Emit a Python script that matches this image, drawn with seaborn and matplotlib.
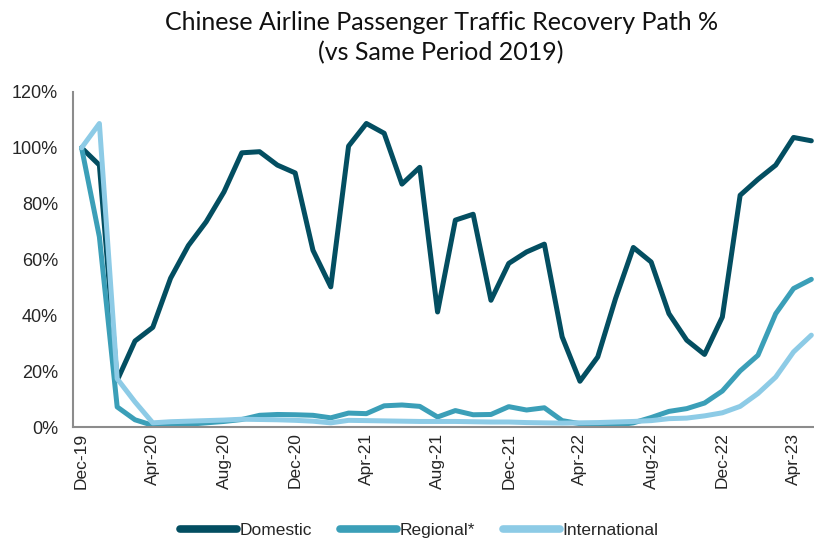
import matplotlib
matplotlib.use("Agg")
import matplotlib.pyplot as plt
import seaborn as sns
import pandas as pd
import numpy as np
from matplotlib.lines import Line2D

months = ["Dec-19", "Jan-20", "Feb-20", "Mar-20", "Apr-20", "May-20", "Jun-20", "Jul-20",
          "Aug-20", "Sep-20", "Oct-20", "Nov-20", "Dec-20", "Jan-21", "Feb-21", "Mar-21",
          "Apr-21", "May-21", "Jun-21", "Jul-21", "Aug-21", "Sep-21", "Oct-21", "Nov-21",
          "Dec-21", "Jan-22", "Feb-22", "Mar-22", "Apr-22", "May-22", "Jun-22", "Jul-22",
          "Aug-22", "Sep-22", "Oct-22", "Nov-22", "Dec-22", "Jan-23", "Feb-23", "Mar-23",
          "Apr-23", "May-23"]

domestic = [100, 93.8, 16.7, 30.8, 35.7, 53.3, 65, 73.5, 84.2, 98.2, 98.6, 93.8, 91,
            63.3, 50.2, 100.6, 108.7, 105.2, 87, 93, 41.2, 74.1, 76.2, 45.4, 58.6, 62.7,
            65.5, 32.3, 16.4, 25.1, 46, 64.3, 59.1, 40.6, 31.1, 26, 39.4, 83, 88.7, 93.8,
            103.7, 102.5]

regional = [100, 68.1, 7.2, 2.6, 0.6, 0.6, 1.0, 1.5, 2.0, 2.7, 4.2, 4.5, 4.4, 4.2, 3.3,
            5.0, 4.8, 7.6, 7.9, 7.4, 3.6, 5.9, 4.4, 4.5, 7.3, 6.1, 6.9, 2.3, 1.2, 0.6,
            0.6, 1.5, 3.4, 5.6, 6.6, 8.6, 12.9, 20.1, 25.7, 40.6, 49.6, 52.9]

international = [100, 108.7, 17.3, 9.0, 1.5, 1.9, 2.1, 2.3, 2.5, 2.8, 2.7, 2.6, 2.4, 2.1,
                 1.5, 2.4, 2.3, 2.2, 2.1, 2.0, 2.0, 2.0, 1.9, 1.8, 1.8, 1.6, 1.5, 1.4,
                 1.5, 1.6, 1.8, 2.0, 2.3, 3.0, 3.2, 4.0, 5.1, 7.4, 12.0, 17.9, 26.9, 32.9]

series_names = ["Domestic", "Regional*", "International"]
colors = ["#034e61", "#3b9fb8", "#8dcbe6"]
y_ticks = [0, 20, 40, 60, 80, 100, 120]

sns.set_style("white")
plt.rcParams["font.family"] = ["Liberation Sans Narrow", "Liberation Sans", "DejaVu Sans"]

idx = np.arange(len(months))
df = pd.concat([
    pd.DataFrame({"idx": idx, "value": vals, "series": name})
    for name, vals in zip(series_names, [domestic, regional, international])
])

fig = plt.figure(figsize=(8.14, 5.44), dpi=100)
ax = fig.add_axes([0.0893, 0.215, 0.9107, 0.616])

sns.lineplot(data=df, x="idx", y="value", hue="series", hue_order=series_names,
             palette=colors, linewidth=3.6, ax=ax, legend=False,
             solid_joinstyle="round", solid_capstyle="round")

ax.set_xlim(-0.5, 41.15)
ax.set_ylim(0, 120)
ax.set_yticks(y_ticks)
ax.set_yticklabels([f"{v}%" for v in y_ticks], fontsize=13)
ax.set_xticks(np.arange(-0.5, 41, 4))
ax.set_xticklabels([])
ax.set_xticks(np.arange(0, 42, 4), minor=True)
ax.set_xticklabels([months[i] for i in range(0, 42, 4)], minor=True, rotation=90, fontsize=12.5)
ax.tick_params(axis="x", which="minor", length=0, pad=4)
ax.tick_params(axis="x", which="major", length=5, width=1.5, color="#8c8c8c", direction="out")
ax.tick_params(axis="y", length=5, width=1.5, color="#8c8c8c", direction="out", pad=5.5)
ax.set_xlabel("")
ax.set_ylabel("")
for s in ["top", "right"]:
    ax.spines[s].set_visible(False)
for s in ["left", "bottom"]:
    ax.spines[s].set_color("#8c8c8c")
    ax.spines[s].set_linewidth(1.5)
ax.grid(False)

handles = [Line2D([0], [0], color=c, lw=5.5, solid_capstyle="round") for c in colors]
fig.legend(handles, series_names, loc="center", bbox_to_anchor=(0.515, 0.025), ncol=3,
           frameon=False, fontsize=12.5, handlelength=3.3, handletextpad=0.15,
           columnspacing=1.6)

fig.text(0.542, 0.958, "Chinese Airline Passenger Traffic Recovery Path %",
         ha="center", va="center", fontsize=18, family=["Lato", "DejaVu Sans"],
         fontweight="normal", color="#111111")
fig.text(0.542, 0.903, "(vs Same Period 2019)",
         ha="center", va="center", fontsize=18, family=["Lato", "DejaVu Sans"],
         fontweight="normal", color="#111111")

fig.savefig("out.png", dpi=100)
